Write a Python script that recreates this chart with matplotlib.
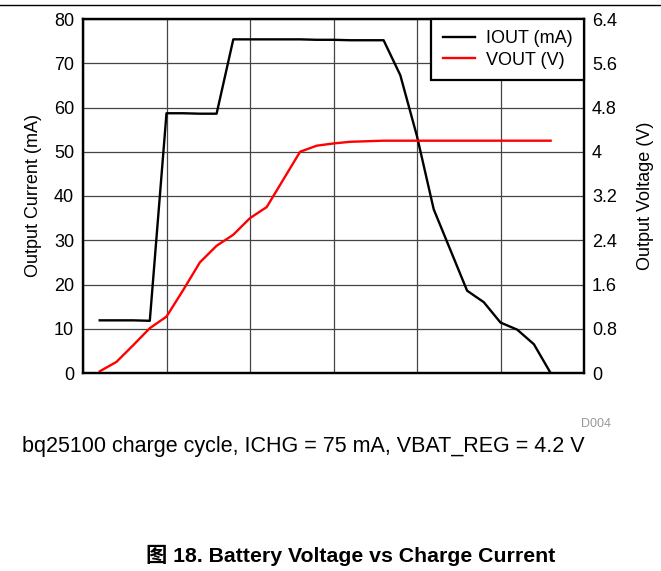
import matplotlib
matplotlib.use("Agg")
import matplotlib.pyplot as plt
from matplotlib.lines import Line2D
from matplotlib.ticker import FuncFormatter

plt.rcParams['font.family'] = ['Liberation Sans', 'Noto Sans CJK SC', 'DejaVu Sans']

# ---- data ----
time = [0.2, 0.4, 0.6, 0.8, 1.0, 1.2, 1.4, 1.6, 1.8, 2.0, 2.2, 2.4, 2.6, 2.8,
        3.0, 3.2, 3.4, 3.6, 3.8, 4.0, 4.2, 4.4, 4.6, 4.8, 5.0, 5.2, 5.4, 5.6]
iout_ma = [11.9, 11.9, 11.9, 11.8, 58.7, 58.7, 58.6, 58.6, 75.4, 75.4, 75.4, 75.4,
           75.4, 75.3, 75.3, 75.2, 75.2, 75.2, 67.3, 53.5, 37.0, 27.8, 18.6, 16.0,
           11.4, 9.8, 6.5, 0.0]
vout_v = [0.03, 0.2, 0.5, 0.81, 1.02, 1.5, 2.0, 2.3, 2.5, 2.8, 3.0, 3.5, 4.0, 4.11,
          4.15, 4.18, 4.19, 4.2, 4.2, 4.2, 4.2, 4.2, 4.2, 4.2, 4.2, 4.2, 4.2, 4.2]
left_ticks = [0, 10, 20, 30, 40, 50, 60, 70, 80]
right_ticks = [0, 0.8, 1.6, 2.4, 3.2, 4.0, 4.8, 5.6, 6.4]
x_ticks = [0, 1, 2, 3, 4, 5, 6]

FS = 13

fig = plt.figure(figsize=(6.61, 5.71), dpi=100)
ax = fig.add_axes([83 / 661, 1 - 373 / 571, 501 / 661, 354 / 571])
ax2 = ax.twinx()

ax.set_xlim(0, 6)
ax.set_ylim(0, 80)
ax2.set_ylim(0, 6.4)
ax.set_xticks(x_ticks)
ax.set_yticks(left_ticks)
ax2.set_yticks(right_ticks)
ax.tick_params(axis='x', length=0, labelbottom=False)
ax.tick_params(axis='y', length=0, pad=6.5, labelsize=FS)
ax2.tick_params(axis='y', length=0, pad=5.8, labelsize=FS)
ax2.yaxis.set_major_formatter(FuncFormatter(lambda v, p: f"{v:g}"))

ax.grid(True, color='#444444', linewidth=0.9)
ax.set_axisbelow(True)

l1, = ax.plot(time, iout_ma, color='black', lw=1.7, label='IOUT (mA)')
l2, = ax2.plot(time, vout_v, color='#ff0000', lw=1.7, label='VOUT (V)')

for a in (ax, ax2):
    for s in a.spines.values():
        s.set_linewidth(1.6)
        s.set_color('black')

ax.set_ylabel('Output Current (mA)', fontsize=FS)
ax.yaxis.set_label_coords(-0.0824, 0.501)
ax2.set_ylabel('Output Voltage (V)', fontsize=FS)
ax2.yaxis.set_label_coords(1.105, 0.5)

leg = ax2.legend(handles=[l1, l2], loc='upper right', borderaxespad=0,
                 fontsize=FS, fancybox=False, framealpha=1, edgecolor='black',
                 handlelength=1.8, handletextpad=0.59, borderpad=0.63,
                 labelspacing=0.23)
leg.get_frame().set_linewidth(1.6)

# decorative top rule
fig.add_artist(Line2D([0, 1], [1 - 5 / 571, 1 - 5 / 571], color='black', lw=1.0,
                      transform=fig.transFigure))

fig.text(611 / 661, 1 - 424 / 571, 'D004', fontsize=9, color='#999999',
         ha='right', va='center')
fig.text(22.5 / 661, 1 - 446.5 / 571,
         'bq25100 charge cycle, ICHG = 75 mA, VBAT_REG = 4.2 V',
         fontsize=15.5, ha='left', va='center')
fig.text(350.5 / 661, 1 - 555 / 571, '图 18. Battery Voltage vs Charge Current',
         fontsize=15.3, fontweight='bold', ha='center', va='center')

fig.savefig('out.png', dpi=100)
